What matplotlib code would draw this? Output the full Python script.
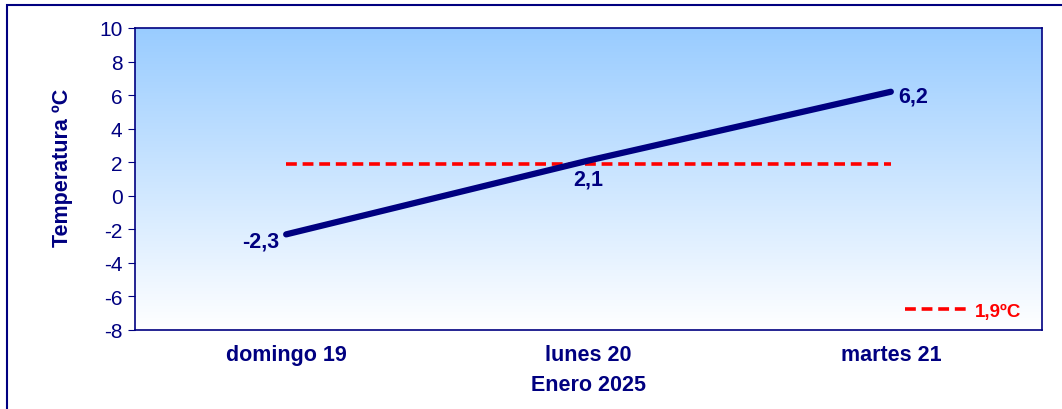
import matplotlib.pyplot as plt
import numpy as np
from matplotlib.patches import Rectangle

plt.rcParams['font.family'] = ['Liberation Sans', 'DejaVu Sans']
plt.rcParams['axes.unicode_minus'] = False

dias = ['domingo 19', 'lunes 20', 'martes 21']
temperaturas = [-2.3, 2.1, 6.2]
media = 1.9
etiquetas = ['-2,3', '2,1', '6,2']

navy = '#000080'

fig = plt.figure(figsize=(10.62, 4.10), dpi=100)
ax = fig.add_axes([135/1062, 1 - 331/410, (1042 - 135)/1062, (331 - 29)/410])

# fondo degradado
grad = np.linspace(0, 1, 256).reshape(-1, 1)
cmap = plt.matplotlib.colors.LinearSegmentedColormap.from_list('fondo', ['#ffffff', '#99ccff'])
ax.imshow(grad, extent=[-0.5, 2.5, -8, 10], origin='lower', aspect='auto', cmap=cmap, zorder=0)

x = np.arange(len(dias))
ax.plot(x, [media] * len(x), color='#ff0000', lw=2.6, ls=(0, (3, 1.6)), zorder=2, label='1,9ºC')
ax.plot(x, temperaturas, color=navy, lw=4.5, solid_capstyle='round', zorder=3)

ax.annotate(etiquetas[0], (x[0], temperaturas[0]), xytext=(-5, -5), textcoords='offset points',
            ha='right', va='center', color=navy, fontsize=15.5, fontweight='bold')
ax.annotate(etiquetas[1], (x[1], temperaturas[1]), xytext=(0, -6), textcoords='offset points',
            ha='center', va='top', color=navy, fontsize=15.5, fontweight='bold')
ax.annotate(etiquetas[2], (x[2], temperaturas[2]), xytext=(5, -3), textcoords='offset points',
            ha='left', va='center', color=navy, fontsize=15.5, fontweight='bold')

ax.set_xlim(-0.5, 2.5)
ax.set_ylim(-8, 10)
ax.set_yticks(range(-8, 11, 2))
ax.set_xticks(x)
ax.set_xticklabels(dias, fontweight='bold', fontsize=15.5, color=navy)
ax.tick_params(axis='y', colors=navy, labelsize=15, length=5, direction='out', pad=4)
ax.tick_params(axis='x', length=0, pad=10)
for s in ax.spines.values():
    s.set_color(navy)
    s.set_linewidth(1.2)

ax.set_ylabel('Temperatura ºC', fontweight='bold', fontsize=15.5, color=navy)
ax.set_xlabel('Enero 2025', fontweight='bold', fontsize=15.5, color=navy)
ax.yaxis.set_label_coords(-0.08, 0.54)
ax.xaxis.set_label_coords(0.5, -0.18)
ax.xaxis.label.set_va('center')
ax.yaxis.label.set_va('center')

leg = ax.legend(loc='center right', bbox_to_anchor=(0.987, 0.062), frameon=False,
                handlelength=3.4, handletextpad=0.3, borderpad=0,
                prop={'weight': 'bold', 'size': 13.5}, labelcolor='#ff0000')

fig.patches.append(Rectangle((7/1062, -0.05), 1.1, (404/410) + 0.05, transform=fig.transFigure,
                             fill=False, edgecolor=navy, lw=1.5))

fig.savefig('out.png', dpi=100)
